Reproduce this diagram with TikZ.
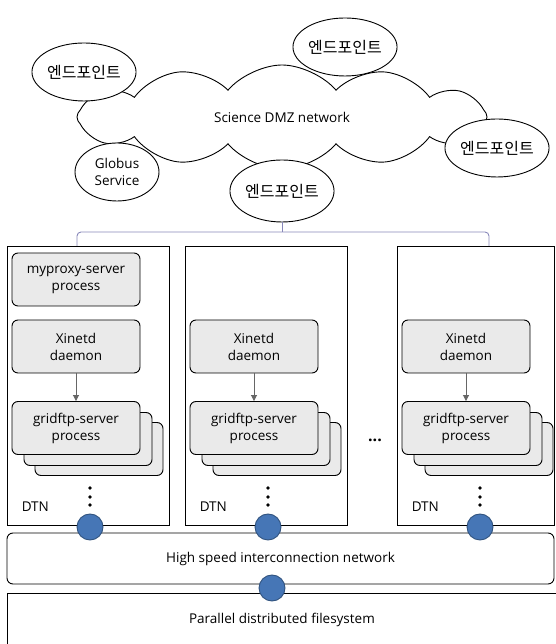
\documentclass[tikz,border=0pt]{standalone}
\usepackage{fontspec}
\setmainfont{Open Sans}
\newfontfamily\krfont{Noto Sans CJK KR}
\usepackage{tikz}
\usetikzlibrary{shapes,arrows,positioning,calc,arrows.meta}

\definecolor{procgray}{RGB}{234,234,234}
\definecolor{portblue}{RGB}{70,118,182}
\definecolor{linkcol}{RGB}{135,135,185}

\tikzset{
  endpoint/.style={draw, ellipse, fill=white, minimum width=84pt, minimum height=58pt, inner sep=0pt, font=\krfont\fontsize{16}{18}\selectfont},
  proc/.style={draw, rounded corners=6pt, fill=procgray, minimum width=128pt, minimum height=53pt, align=center},
  dtnbox/.style={draw, minimum height=279pt, anchor=north west},
  port/.style={circle, fill=portblue, draw=portblue!70!black, minimum size=26pt, inner sep=0pt},
}

\begin{document}
\begin{tikzpicture}[x=1pt, y=1pt, line width=0.9pt, font=\fontsize{13.5}{17}\selectfont]
        \useasboundingbox (0,0) rectangle (555,644);
        % Science DMZ cloud
        \node[draw, cloud, cloud puffs=12, cloud puff arc=100, aspect=5, minimum width=410pt, minimum height=104pt] (dmz) at (282,527) {Science DMZ network};
        % Endpoints
        \node[endpoint] (ep1) at (84,572) {엔드포인트};
        \node[endpoint] (ep2) at (345,597) {엔드포인트};
        \node[endpoint] (ep3) at (497,496) {엔드포인트};
        \node[endpoint, minimum height=62pt] (ep4) at (282,453) {엔드포인트};
        \node[endpoint, font=\fontsize{13.5}{17}\selectfont, align=center] (globus) at (117,472) {Globus\\Service};

        % Storage side
        \node[draw, rounded corners=6pt, minimum width=547pt, minimum height=51pt] (hsnet) at (280.5,85.5) {High speed interconnection network};
        \node[draw, minimum width=549pt, minimum height=54pt, anchor=north west] (pfs) at (7,51) {Parallel distributed filesystem};
        \node[port] (hsport) at (272,56) {};

        % DTN nodes
        \foreach \i/\xl/\w in {1/7/162, 2/185/162, 3/397/157} {
            \node[dtnbox, minimum width=\w pt] (dtn\i) at (\xl,398) {};
            \node[anchor=west] (dtnlabel\i) at (\xl+11,137) {DTN};
            \node[proc] (xin\i) at (\xl+69,297.5) {Xinetd\\daemon};
            \node[proc] (back\i) at (\xl+69+23,216-21) {};
            \node[proc] (mid\i) at (\xl+69+12,216-11) {};
            \node[proc] (grid\i) at (\xl+69,216) {gridftp-server\\process};
            \draw[-{Triangle[length=6pt,width=6pt]}, gray!80!black] (xin\i) -- (grid\i);
            \foreach \d in {156,147,139}
                \fill (\xl+83,\d) circle (1.8pt);
            \node[port] (port\i) at (\xl+83,117) {};
        }
        \node[proc] (myproxy) at (76,364.5) {myproxy-server\\process};
        \node[font=\bfseries\fontsize{16}{16}\selectfont] (more) at (375,204) {...};

        % Link from DMZ to DTNs
        \coordinate (tap) at (282,412);
        \draw[linkcol] (ep4) -- (tap);
        \draw[linkcol, rounded corners=4pt] ($(dtn1.north west)+(70,0)$) |- (tap) -| ($(dtn3.north west)+(92,0)$);
    \end{tikzpicture}
\end{document}
